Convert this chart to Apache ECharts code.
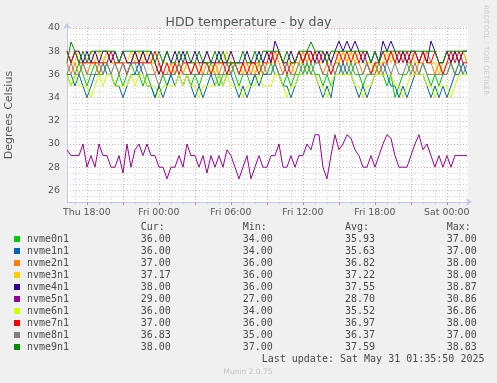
<!DOCTYPE html>
<html><head><meta charset="utf-8">
<script src="https://cdn.jsdelivr.net/npm/echarts@6/dist/echarts.min.js"></script>
<style>html,body{margin:0;padding:0;background:#f0f0f0}#c{width:497px;height:383px}</style>
</head><body><div id="c"></div><script>
// time axis: hours since Thu 00:00
const startHour = 16.35;
const stepHours = 1 / 3; // 20-minute samples
const xLabelHours = [18, 24, 30, 36, 42, 48];
const dayNames = ['Thu', 'Fri', 'Sat'];
const yLabelValues = [26, 28, 30, 32, 34, 36, 38, 40];

const deviceNames = ['nvme0n1','nvme1n1','nvme2n1','nvme3n1','nvme4n1','nvme5n1','nvme6n1','nvme7n1','nvme8n1','nvme9n1'];
const deviceColors = ['#00CC00','#0066B3','#FF8000','#FFCC00','#330099','#990099','#CCFF00','#FF0000','#808080','#008F00'];

const nvme0n1 = [36,35,36,37,36,35,36,37,36,36,37,36,35,36,35,36,37,36,36,35,36,35,34,35,36,35,36,36,37,36,36,35,36,35,36,36,37,36,35,36,36,37,36,35,36,36,35,36,37,36,36,37,36,36,35,36,35,36,36,37,36,37,36,36,35,36,35,36,37,36,36,37,36,36,35,36,36,37,36,36,35,36,34,35,36,36,37,36,36,37,36,35,36,35,36,36,37,36,37,36,36];
const nvme1n1 = [36,36,35,36,35,34,35,36,36,37,36,36,35,35,34,35,36,36,37,36,35,35,34,35,34,35,36,35,36,35,36,35,34,35,34,35,36,35,36,35,36,36,35,34,35,34,35,36,35,36,36,36,37,36,35,35,34,35,36,36,37,36,36,35,34,35,34,36,36,37,36,36,35,34,35,34,35,36,36,37,36,35,35,34,35,34,35,36,36,36,35,34,35,34,35,34,35,36,36,37,36];
const nvme2n1 = [37,36,37,36,37,36,37,37,36,37,38,37,37,36,37,37,37,38,37,38,37,37,36,37,36,36,37,36,37,36,37,36,37,37,36,37,36,37,36,37,37,36,37,36,37,37,36,37,37,36,37,37,38,37,36,37,36,37,37,38,37,38,37,37,36,37,36,37,37,38,37,38,37,37,36,37,36,37,36,37,37,38,37,37,38,37,37,36,37,37,38,37,36,37,36,37,37,38,37,38,37];
const nvme3n1 = [38,37,37,38,37,37,38,37,38,37,38,37,37,37,38,37,38,37,38,37,38,37,37,36,37,37,36,37,37,36,37,37,37,36,37,38,37,36,37,37,38,37,37,37,36,37,37,36,37,37,38,37,37,38,37,37,37,36,37,37,38,37,38,37,37,38,37,38,37,38,37,38,37,38,37,37,37,36,37,37,38,37,38,37,38,37,38,37,37,38,37,37,37,36,37,38,37,38,37,38,37.17];
const nvme4n1 = [38,37,38,38,37,38,37,38,37,38,38,37,38,37,38,37,37,38,37,38,37,38,37,36,37,38,37,38,37,38,37,37,38,37,37,38,37,37,38,37,37,38,37,37,37,38,37,37,38,37,38,37,38.87,38,37,37,38,37,38,37,38,38,37,38,37,38,37,38,38.87,38,38.87,38,38.87,38,37,38,37,38,37,38.87,38,38.87,38,37,38,37,38,38,37,38,37,38.87,38,37,37,38,37,38,37,38,38];
const nvme5n1 = [29.5,29,29,29,30,28,29,28,30,29,29,28,28,29,27.5,30,28,29.5,30,29,30,29,29,28,28,27,28,28,29,28,30,29,29,28,29,27.5,29,28,29,28,29.5,29,28,27,28,29,27,28,29,28,28,29,29,30,28,28,29,28,29,29,30,29.5,30.8,30.8,28,27,29,30.8,29.5,30,30.8,30.5,29.5,29,28,28,29,28,29,30,30.8,30.5,29,28,28,28,29,30,30.8,29.5,30,29,28,29,28,29,28,29,29,29,29];
const nvme6n1 = [36,35,36,35,35,35,34,35,36,35,36,36,35,35,35,35,36,35,36,36,35,35,35,34,35,35,35,35,36,35,36,35,35,34,35,35,35,35,36,35,36,35,35,35,34,35,35,35,36,35,35,35,36,36,35,34,35,35,36,36,36.86,36,36,35,35,34,35,36,36,36,36,36,35,35,34,35,35,36,36,36,36,36,35,35,34,35,36,36,36,36,35,35,34,35,35,35,34,35,36,36,36];
const nvme7n1 = [38,37,38,37,37,37,37,37,37,37,37,38,37,37,37,36,37,37,37,37,37,37,38,37,36,37,36,37,36,37,37,36,37,36,37,37,36,37,37,37,36,37,37,36,37,36,37,37,36,37,37,38,37,38,37,36,37,37,38,37,38,37,38,37,38,37,36,37,38,37,38,37,38,37,38,37,36,37,37,38,37,38,37,38,37,38,37,38,37,38,37,37,38,37,36,37,38,37,38,37,37];
const nvme8n1 = [36,37,36,36,37,36,36,36,37,36,37,36,37,36,37,36,37,37,36,37,36,36,36,35,36,36,36,36,37,36,36,36,36,36,36,36,36,36,36,36,37,36,37,36,36,36,36,36,36,37,36,36,37,36,36,37,36,36,37,36,37,36,37,37,36,36,37,36,37,36,37,36,37,36,36,37,36,36,37,36,37,36,37,36,36,37,36,37,36,37,36,36,36,36,36,36,37,36,37,36,36.83];
const nvme9n1 = [37,38.8,38,37,38,37,38,38,38,38,38,38,38,37,38,38,38,38,38,38,38,38,37,38,37,38,37,37,38,37,38,37,37,38,37,37,37,38,37,38,37,37,37,37,38,37,37,38,37,38,38,38,38,38,37,38,37,37,38,38,38,38.8,38,38,38,37,38,38,38,38,38,38,38,38,38,38,37,38,37,38,38,38,38,38,38,38,38,38,38,38,38,38,38,37,37,38,38,38,38,38,38];
const seriesValues = [nvme0n1,nvme1n1,nvme2n1,nvme3n1,nvme4n1,nvme5n1,nvme6n1,nvme7n1,nvme8n1,nvme9n1];

const curValues = ['36.00','36.00','37.00','37.17','38.00','29.00','36.00','37.00','36.83','38.00'];
const minValues = ['34.00','34.00','36.00','36.00','36.00','27.00','34.00','36.00','35.00','37.00'];
const avgValues = ['35.93','35.63','36.82','37.22','37.55','28.70','35.52','36.97','36.37','37.59'];
const maxValues = ['37.00','37.00','38.00','38.00','38.87','30.86','36.86','38.00','37.00','38.83'];
const lastUpdate = 'Last update: Sat May 31 01:35:50 2025';

const hourTicks = [];
for (let h = 17; h <= 49; h++) hourTicks.push(h);
const threeHourTicks = hourTicks.filter(h => h % 3 === 0);

const chart = echarts.init(document.getElementById('c'), null, {renderer: 'canvas'});
const axisBlue = '#c4c8f0';
const minorGrid = '#d6d6d6';
const majorGrid = '#e8a8a8';
const labelFont = {fontFamily: 'DejaVu Sans', fontSize: 9.4, color: '#555'};
const mono = 'DejaVu Sans Mono';

const graphics = [];
const colX = [140.7, 242.7, 345, 446.7];
['Cur:', 'Min:', 'Avg:', 'Max:'].forEach((t, j) => {
  graphics.push({type: 'text', x: colX[j], y: 227, style: {text: t, font: '10px ' + mono, fill: '#4a4a4a', textVerticalAlign: 'middle'}});
});
deviceNames.forEach((name, k) => {
  const y = 239 + 12 * k;
  graphics.push({type: 'rect', shape: {x: 14, y: y - 3, width: 6, height: 6}, style: {fill: deviceColors[k]}});
  graphics.push({type: 'text', x: 27, y: y, style: {text: name, font: '10px ' + mono, fill: '#4a4a4a', textVerticalAlign: 'middle'}});
  [curValues, minValues, avgValues, maxValues].forEach((arr, j) => {
    graphics.push({type: 'text', x: colX[j], y: y, style: {text: arr[k], font: '10px ' + mono, fill: '#4a4a4a', textVerticalAlign: 'middle'}});
  });
});
graphics.push({type: 'text', x: 261.7, y: 359.7, style: {text: lastUpdate, font: '10px ' + mono, fill: '#4a4a4a', textVerticalAlign: 'middle'}});
graphics.push({type: 'text', x: 248, y: 372.3, style: {text: 'Munin 2.0.75', font: '7.5px DejaVu Sans', fill: '#c4c4c4', textAlign: 'center', textVerticalAlign: 'middle'}});
graphics.push({type: 'text', x: 489, y: 5, rotation: -Math.PI / 2, style: {text: 'RRDTOOL / TOBI OETIKER', font: '7px DejaVu Sans', fill: '#cccccc', textAlign: 'left', textVerticalAlign: 'top'}});

const fmtHour = v => {
  const d = Math.floor(v / 24);
  const hh = String(Math.round(v - d * 24)).padStart(2, '0');
  return dayNames[d] + ' ' + hh + ':00';
};

chart.setOption({
  backgroundColor: '#f0f0f0',
  animation: false,
  title: {text: 'HDD temperature - by day', left: 'center', top: 11,
    textStyle: {fontFamily: 'DejaVu Sans', fontSize: 12.5, fontWeight: 'normal', color: '#555'}},
  grid: {left: 67, top: 28, width: 401, height: 174, show: true, backgroundColor: '#ffffff', borderWidth: 0,
    containLabel: false, outerBoundsMode: 'none'},
  xAxis: [{
    type: 'value', min: 16.35, max: 49.77,
    axisLine: {show: true, onZero: false, lineStyle: {color: axisBlue, width: 1}, symbol: ['none', 'arrow'], symbolSize: [6, 6], symbolOffset: [0, 4]},
    axisTick: {show: true, customValues: hourTicks, length: 2, lineStyle: {color: '#bbbbbb'}},
    axisLabel: {customValues: xLabelHours, formatter: fmtHour, margin: 6, ...labelFont},
    splitLine: {show: true, lineStyle: {color: [minorGrid, majorGrid, minorGrid], type: [1, 2], width: 1}}
  }, {
    type: 'value', min: 16.35, max: 49.77, position: 'bottom',
    axisLine: {show: false},
    axisTick: {show: true, customValues: threeHourTicks, length: 3, lineStyle: {color: '#e08080'}},
    axisLabel: {show: false},
    splitLine: {show: false}
  }],
  yAxis: {
    type: 'value', min: 25, max: 40, interval: 0.5,
    name: 'Degrees Celsius', nameLocation: 'middle', nameGap: 52, nameRotate: 90,
    nameTextStyle: {fontFamily: 'DejaVu Sans', fontSize: 11, color: '#555'},
    axisLine: {show: true, lineStyle: {color: axisBlue, width: 1}, symbol: ['none', 'arrow'], symbolSize: [6, 6], symbolOffset: [0, 5]},
    axisTick: {show: false},
    axisLabel: {margin: 7, ...labelFont, formatter: v => (yLabelValues.indexOf(v) >= 0 ? String(v) : '')},
    splitLine: {show: true, lineStyle: {color: [minorGrid, minorGrid, majorGrid, minorGrid], type: [1, 2], width: 1}}
  },
  series: seriesValues.map((vals, k) => ({
    name: deviceNames[k], type: 'line', showSymbol: false, symbol: 'none',
    lineStyle: {width: 1, color: deviceColors[k]}, itemStyle: {color: deviceColors[k]},
    data: vals.map((v, i) => [startHour + i * stepHours, v]),
    z: 2 + k
  })),
  graphic: graphics
});
</script></body></html>
